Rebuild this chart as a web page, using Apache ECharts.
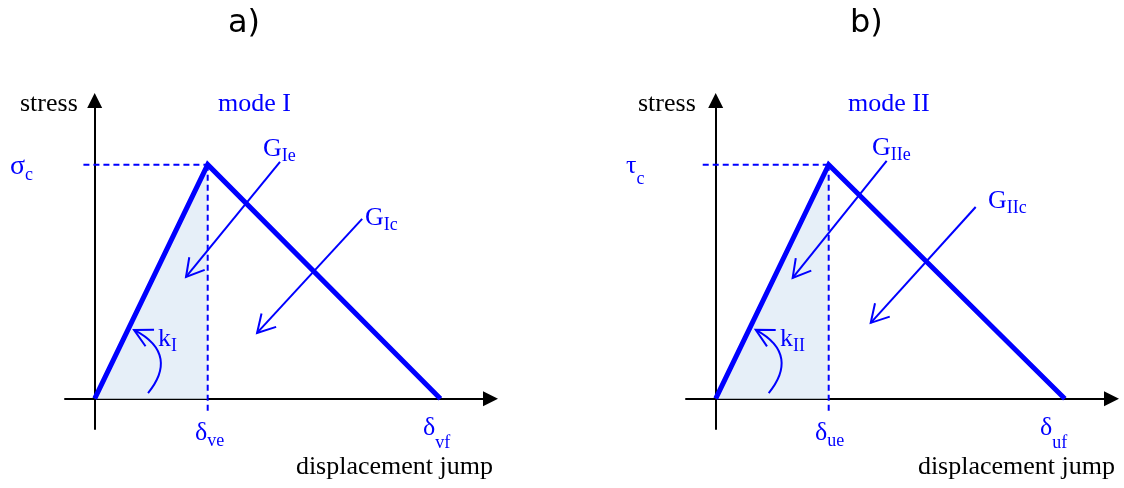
<!DOCTYPE html>
<html>
<head>
<meta charset="utf-8">
<script src="https://cdn.jsdelivr.net/npm/echarts@6/dist/echarts.min.js"></script>
<style>
  html, body { margin: 0; padding: 0; background: #fff; }
  #chart { width: 1124px; height: 488px; }
</style>
</head>
<body>
<div id="chart"></div>
<script>
// --- data (normalised: peak displacement = 1, peak stress = 1) ---
const panelTitles = ['a)', 'b)'];
const modeNames = ['mode I', 'mode II'];
const stressSymbols = ['σ', 'τ'];
const modeSubs = ['I', 'II'];
const peakSubs = ['ve', 'ue'];
const finalSubs = ['vf', 'uf'];
const peakDisp = [1, 1];
const finalDisp = [3.06, 3.09];
const peakStress = [1, 1];
const sigmaGuideStart = [-0.10, -0.115];
const deltaGuideEnd = [-0.057, -0.057];

// energy arrows: [xFrom, yFrom, xTo, yTo]
const energyArrowsA = [[1.640, 1.012, 0.808, 0.520], [2.367, 0.768, 1.437, 0.281]];
const energyArrowsB = [[1.513, 1.016, 0.681, 0.516], [2.301, 0.819, 1.372, 0.324]];
// stiffness arrow (cubic curve): start, cp1, cp2, end
const stiffCurveA = [0.472, 0.024, 0.640, 0.123, 0.640, 0.221, 0.348, 0.294];
const stiffCurveB = [0.469, 0.024, 0.637, 0.123, 0.637, 0.221, 0.354, 0.294];

const xRange = [-0.263, 3.503];
const yRange = [-0.1295, 1.274];

const BLUE = '#0000ff';
const FILL = '#e6eff8';
const SERIF = '"Liberation Serif", "Times New Roman", serif';

const chart = echarts.init(document.getElementById('chart'));

// pixel layout of the two panels
const gridLefts = [65, 686];
const grids = gridLefts.map(l => ({ left: l, top: 100.5, width: 425.5, height: 328.5 }));

function axisCommon(i, range) {
    return {
        gridIndex: i, type: 'value', min: range[0], max: range[1],
        axisLine: { onZero: true, lineStyle: { color: '#000', width: 2 },
            symbol: ['none', 'triangle'], symbolSize: [15, 15] },
        axisTick: { show: false }, axisLabel: { show: false }, splitLine: { show: false }
    };
}

function arrowHead(tip, from, len, ang) {
    const a = Math.atan2(from[1] - tip[1], from[0] - tip[0]);
    return [
        [tip[0] + len * Math.cos(a + ang), tip[1] + len * Math.sin(a + ang)],
        tip,
        [tip[0] + len * Math.cos(a - ang), tip[1] + len * Math.sin(a - ang)]
    ];
}

function renderArrow(params, api) {
    const p1 = api.coord([api.value(0), api.value(1)]);
    const p2 = api.coord([api.value(2), api.value(3)]);
    return { type: 'group', children: [
        { type: 'line', shape: { x1: p1[0], y1: p1[1], x2: p2[0], y2: p2[1] },
          style: { stroke: BLUE, lineWidth: 2 } },
        { type: 'polyline', shape: { points: arrowHead(p2, p1, 20, 0.52) },
          style: { stroke: BLUE, lineWidth: 2, fill: null } }
    ]};
}

function renderCurve(params, api) {
    const p = [0, 1, 2, 3].map(k => api.coord([api.value(2 * k), api.value(2 * k + 1)]));
    return { type: 'group', children: [
        { type: 'bezierCurve', shape: { x1: p[0][0], y1: p[0][1], cpx1: p[1][0], cpy1: p[1][1],
            cpx2: p[2][0], cpy2: p[2][1], x2: p[3][0], y2: p[3][1] },
          style: { stroke: BLUE, lineWidth: 2, fill: null } },
        { type: 'polyline', shape: { points: arrowHead(p[3], p[2], 20, 0.48) },
          style: { stroke: BLUE, lineWidth: 2, fill: null } }
    ]};
}

const series = [];
[0, 1].forEach(i => {
    const ax = { xAxisIndex: i, yAxisIndex: i };
    // shaded elastic energy
    series.push(Object.assign({ type: 'line', data: [[0, 0], [peakDisp[i], peakStress[i]]],
        showSymbol: false, lineStyle: { width: 0 }, areaStyle: { color: FILL, opacity: 1 }, z: 1 }, ax));
    // guide lines
    series.push(Object.assign({ type: 'line', data: [[sigmaGuideStart[i], peakStress[i]], [peakDisp[i], peakStress[i]]],
        showSymbol: false, lineStyle: { color: BLUE, width: 2, type: [6, 4] } }, ax));
    series.push(Object.assign({ type: 'line', data: [[peakDisp[i], peakStress[i]], [peakDisp[i], deltaGuideEnd[i]]],
        showSymbol: false, lineStyle: { color: BLUE, width: 2, type: [6, 4] } }, ax));
    // bilinear law
    series.push(Object.assign({ type: 'line', data: [[0, 0], [peakDisp[i], peakStress[i]], [finalDisp[i], 0]],
        showSymbol: false, lineStyle: { color: BLUE, width: 5, join: 'miter' }, z: 3 }, ax));
    series.push(Object.assign({ type: 'custom', renderItem: renderArrow,
        encode: { x: [0, 2], y: [1, 3] }, data: i === 0 ? energyArrowsA : energyArrowsB, z: 4 }, ax));
    series.push(Object.assign({ type: 'custom', renderItem: renderCurve,
        encode: { x: [0, 2, 4, 6], y: [1, 3, 5, 7] }, data: [i === 0 ? stiffCurveA : stiffCurveB], z: 4 }, ax));
});

// --- text ---
const ctx = document.createElement('canvas').getContext('2d');
function textW(s, size, fam) { ctx.font = size + 'px ' + fam; return ctx.measureText(s).width; }
function txt(x, base, s, size, color, fam, align) {
    fam = fam || SERIF;
    return { type: 'text', x: x, y: base - 0.3375 * size, z: 100,
        style: { text: s, fontSize: size, fontFamily: fam, fill: color, align: align || 'left', verticalAlign: 'middle' } };
}
// main symbol with subscript
function sub(x, base, main, s, size, subSize, drop, color) {
    const w = textW(main, size, SERIF);
    return [txt(x, base, main, size, color), txt(x + w, base + drop, s, subSize, color)];
}

const graphics = [];
const L = [
    { title: 228, stress: 20, mode: 218, sym: 10, symBase: 176, symDrop: 5, ge: [263, 158], gc: [365, 227], k: 158, de: 195, df: 423, dj: 493 },
    { title: 850, stress: 638, mode: 848, sym: 626, symBase: 175, symDrop: 10, ge: [872, 157], gc: [988, 210], k: 780, de: 815, df: 1040, dj: 1115 }
];
[0, 1].forEach(i => {
    const l = L[i];
    graphics.push(txt(l.title, 34, panelTitles[i], 32, '#000', '"DejaVu Sans", Verdana, sans-serif'));
    graphics.push(txt(l.stress, 113, 'stress', 26, '#000'));
    graphics.push(txt(l.mode, 113, modeNames[i], 26, BLUE));
    graphics.push(...sub(l.sym, l.symBase, stressSymbols[i], 'c', i === 0 ? 28 : 26, 18, l.symDrop, BLUE));
    graphics.push(...sub(l.ge[0], l.ge[1], 'G', modeSubs[i] + 'e', 26, 18, 4, BLUE));
    graphics.push(...sub(l.gc[0], l.gc[1], 'G', modeSubs[i] + 'c', 26, 18, 4, BLUE));
    graphics.push(...sub(l.k, 348, 'k', modeSubs[i], 26, 18, 4, BLUE));
    graphics.push(...sub(l.de, 442, 'δ', peakSubs[i], 26, 18, 5, BLUE));
    graphics.push(...sub(l.df, 437, 'δ', finalSubs[i], 26, 18, 12, BLUE));
    graphics.push(txt(l.dj, 476, 'displacement jump', 26, '#000', SERIF, 'right'));
});

chart.setOption({
    animation: false,
    backgroundColor: '#fff',
    grid: grids,
    xAxis: [0, 1].map(i => axisCommon(i, xRange)),
    yAxis: [0, 1].map(i => axisCommon(i, yRange)),
    series: series,
    graphic: graphics
});
</script>
</body>
</html>
